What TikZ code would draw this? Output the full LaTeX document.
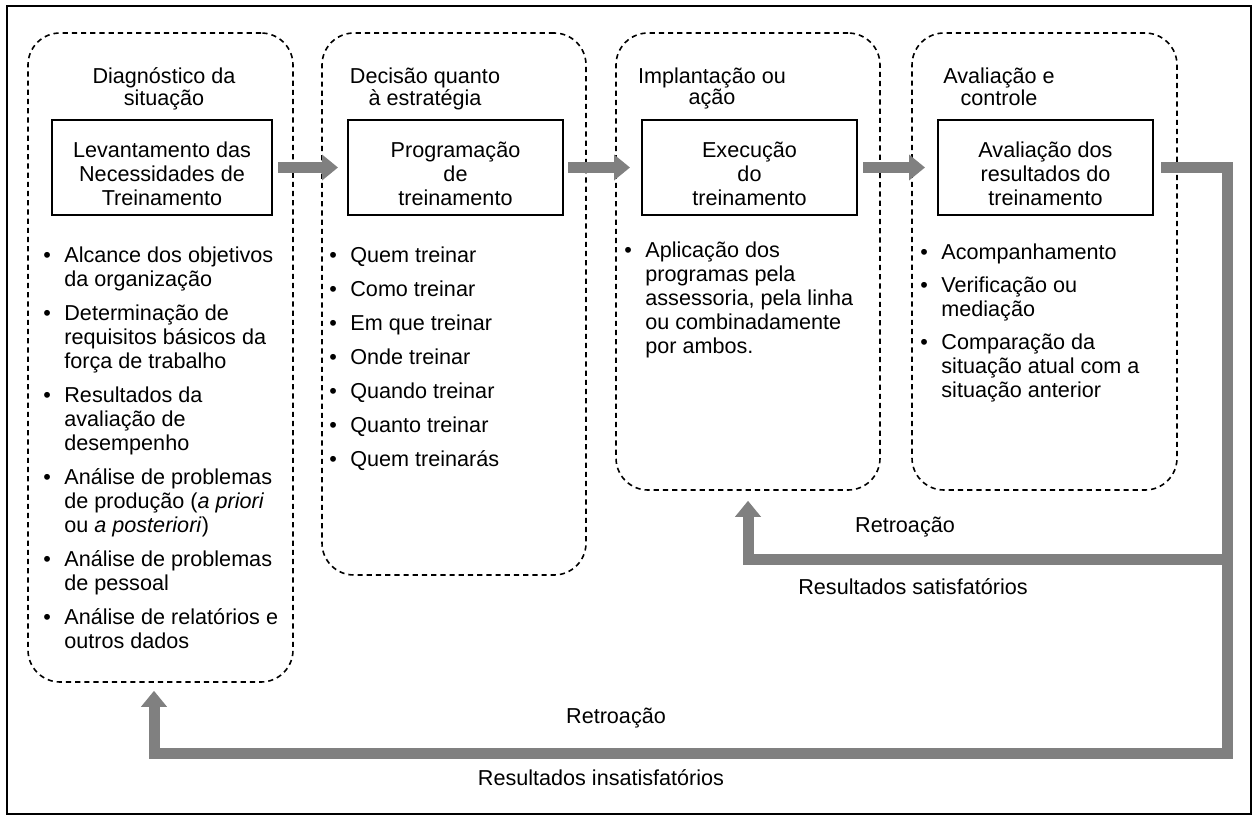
\documentclass[tikz,border=0pt]{standalone}
\usepackage{fontspec}
\setmainfont{Liberation Sans}
\usetikzlibrary{arrows.meta}
\definecolor{fbgray}{RGB}{128,128,128}
\newcommand{\bu}{\makebox[10.5pt][l]{\textbullet}}
\begin{document}
\begin{tikzpicture}[x=0.5pt,y=-0.5pt,
  txt/.style={font=\fontsize{10.8pt}{12pt}\selectfont, inner sep=0pt},
  colbox/.style={draw, dash pattern=on 2.6pt off 2pt, line width=0.8pt, rounded corners=16pt, inner sep=0pt},
  stagebox/.style={draw, line width=1pt, inner sep=0pt, minimum height=47.5pt},
  bigarrow/.style={draw=fbgray, line width=5.5pt, line join=miter, -{Triangle[width=12.5pt,length=8pt]}}
]
\useasboundingbox (0,0) rectangle (1257,819);
\draw[line width=1.1pt] (7,6) rectangle (1251,814);

% stage containers
\node[colbox, minimum width=132.5pt, minimum height=324.5pt] (col1) at (160.5,357.5) {};
\node[colbox, minimum width=132pt, minimum height=271pt] (col2) at (454,304) {};
\node[colbox, minimum width=132pt, minimum height=228.5pt] (col3) at (748,261.5) {};
\node[colbox, minimum width=132.5pt, minimum height=228.5pt] (col4) at (1044.5,261.5) {};

% titles
\node[txt, anchor=base] (t1) at (164,83) {\renewcommand\arraystretch{0.9}\begin{tabular}[t]{@{}c@{}}Diagnóstico da\\situação\end{tabular}};
\node[txt, anchor=base] (t2) at (425,83) {\renewcommand\arraystretch{0.9}\begin{tabular}[t]{@{}c@{}}Decisão quanto\\à estratégia\end{tabular}};
\node[txt, anchor=base] (t3) at (712,83) {\renewcommand\arraystretch{0.9}\begin{tabular}[t]{@{}c@{}}Implantação ou\\ação\end{tabular}};
\node[txt, anchor=base] (t4) at (999,83) {\renewcommand\arraystretch{0.9}\begin{tabular}[t]{@{}c@{}}Avaliação e\\controle\end{tabular}};

% stage boxes
\node[stagebox, minimum width=110pt] (box1) at (162,167.5) {};
\node[stagebox, minimum width=107.5pt] (box2) at (455.5,167.5) {};
\node[stagebox, minimum width=107.5pt] (box3) at (749.5,167.5) {};
\node[stagebox, minimum width=107.5pt] (box4) at (1045.5,167.5) {};
\node[txt, anchor=base] (b1t) at (box1.center |- 0,157) {\begin{tabular}[t]{@{}c@{}}Levantamento das\\Necessidades de\\Treinamento\end{tabular}};
\node[txt, anchor=base] (b2t) at (box2.center |- 0,157) {\begin{tabular}[t]{@{}c@{}}Programação\\de\\treinamento\end{tabular}};
\node[txt, anchor=base] (b3t) at (box3.center |- 0,157) {\begin{tabular}[t]{@{}c@{}}Execução\\do\\treinamento\end{tabular}};
\node[txt, anchor=base] (b4t) at (box4.center |- 0,157) {\begin{tabular}[t]{@{}c@{}}Avaliação dos\\resultados do\\treinamento\end{tabular}};

% bullet lists
\node[txt, anchor=base west] (l1) at (43,262) {\begin{tabular}[t]{@{}l@{}l@{}}
\bu & Alcance dos objetivos\\
 & da organização\\[5pt]
\bu & Determinação de\\
 & requisitos básicos da\\
 & força de trabalho\\[5pt]
\bu & Resultados da\\
 & avaliação de\\
 & desempenho\\[5pt]
\bu & Análise de problemas\\
 & de produção (\textit{a priori}\\
 & ou \textit{a posteriori})\\[5pt]
\bu & Análise de problemas\\
 & de pessoal\\[5pt]
\bu & Análise de relatórios e\\
 & outros dados
\end{tabular}};
\node[txt, anchor=base west] (l2) at (329,262) {\begin{tabular}[t]{@{}l@{}l@{}}
\bu & Quem treinar\\[5pt]
\bu & Como treinar\\[5pt]
\bu & Em que treinar\\[5pt]
\bu & Onde treinar\\[5pt]
\bu & Quando treinar\\[5pt]
\bu & Quanto treinar\\[5pt]
\bu & Quem treinarás
\end{tabular}};
\node[txt, anchor=base west] (l3) at (624,257) {\begin{tabular}[t]{@{}l@{}l@{}}
\bu & Aplicação dos\\
 & programas pela\\
 & assessoria, pela linha\\
 & ou combinadamente\\
 & por ambos.
\end{tabular}};
\node[txt, anchor=base west] (l4) at (920,259) {\begin{tabular}[t]{@{}l@{}l@{}}
\bu & Acompanhamento\\[4.5pt]
\bu & Verificação ou\\
 & mediação\\[4.5pt]
\bu & Comparação da\\
 & situação atual com a\\
 & situação anterior
\end{tabular}};

% forward arrows
\draw[bigarrow, shorten <=2.5pt, shorten >=4.5pt] (box1.east) -- (box2.west);
\draw[bigarrow, shorten <=2pt, shorten >=5.5pt] (box2.east) -- (box3.west);
\draw[bigarrow, shorten <=2.5pt, shorten >=6pt] (box3.east) -- (box4.west);

% feedback loops
\coordinate (cR) at (1227,167.5);
\coordinate (cB) at (1227,753);
\coordinate (cL) at (154,753);
\coordinate (cM) at (1227,559);
\coordinate (cI) at (748,559);
\draw[bigarrow, shorten <=3.5pt, shorten >=4pt] (box4.east) -- (cR) -- (cB) -- (cL) -- (cL |- col1.south);
\draw[bigarrow, shorten >=5pt] (cM) -- (cI) -- (cI |- col3.south);

% labels
\node[txt] (r1) at (905,527) {Retroação};
\node[txt] (s1) at (913,587) {Resultados satisfatórios};
\node[txt] (r2) at (616,718) {Retroação};
\node[txt] (s2) at (601,778) {Resultados insatisfatórios};
\end{tikzpicture}
\end{document}
